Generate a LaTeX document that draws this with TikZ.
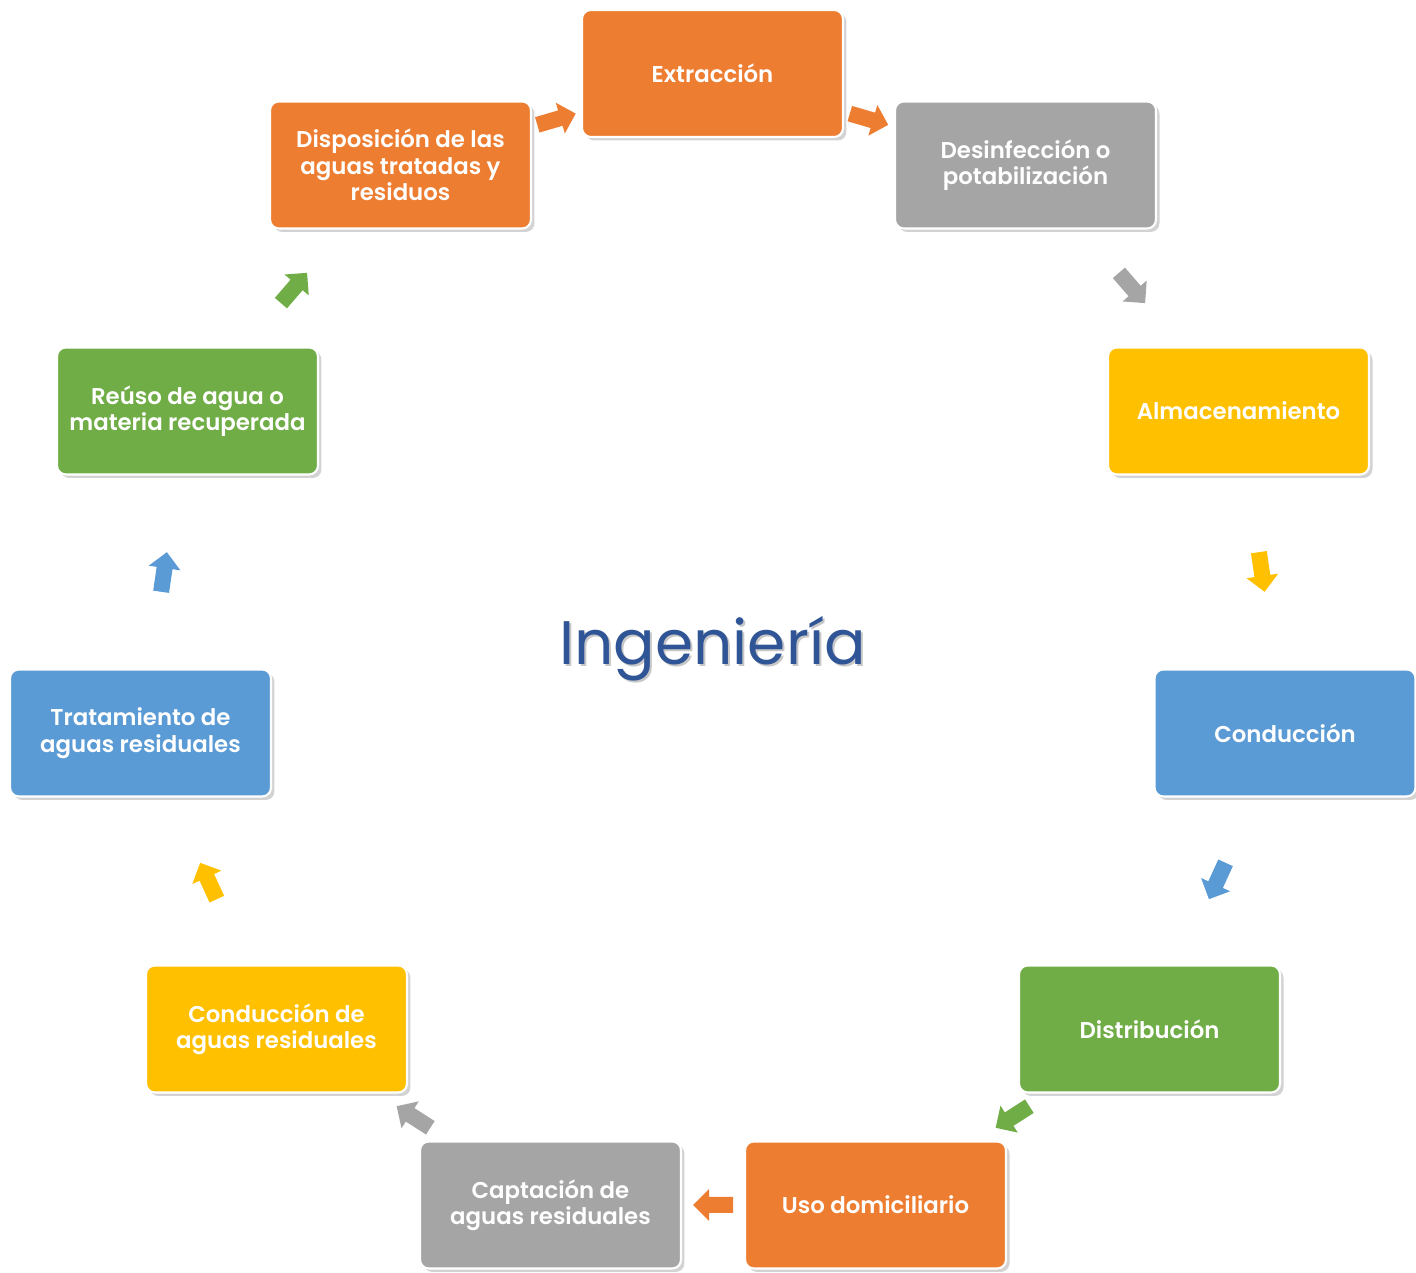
\documentclass[tikz,border=0pt]{standalone}
\usepackage{fontspec}
\setmainfont{Poppins}[BoldFont={Poppins SemiBold}]
\usetikzlibrary{calc,shadows}
\begin{document}
\begin{tikzpicture}[x=0.02cm,y=0.02cm,
  box/.style={rounded corners=5pt, minimum width=5.22cm, minimum height=2.54cm,
    draw=white, line width=1.2pt, text=white, align=center,
    font=\fontsize{13}{15}\selectfont\bfseries,
    drop shadow={shadow xshift=2pt, shadow yshift=-2pt, opacity=.35}},
  cyclearrow/.pic={\fill[pic actions] (-20,-8) -- (4,-8) -- (4,-16) -- (20,0) -- (4,16) -- (4,8) -- (-20,8) -- cycle;}]
\useasboundingbox (0,0) rectangle (1416,1273);

% Changing colors
\definecolor{r237g125b49}{rgb}{0.929412,0.490196,0.192157}%
\definecolor{r165g165b165}{rgb}{0.647059,0.647059,0.647059}%
\definecolor{r255g192b0}{rgb}{1.000000,0.752941,0.000000}%
\definecolor{r91g155b213}{rgb}{0.356863,0.607843,0.835294}%
\definecolor{r112g173b71}{rgb}{0.439216,0.678431,0.278431}%
\definecolor{r47g85b151}{rgb}{0.184314,0.333333,0.592157}%

% Drawing title
\node [anchor=base, text=black, opacity=.22, font=\fontsize{35}{42}\selectfont] (titleshadow) at (714.5,606) {Ingeniería};
\node [anchor=base, text=r47g85b151, font=\fontsize{35}{42}\selectfont] (title) at (712.5,608) {Ingeniería};

% Drawing boxes
\node [box, fill=r237g125b49] (b1) at (712.5,1199.5) {Extracción};
\node [box, fill=r165g165b165] (b2) at (1025.5,1108) {Desinfección o\\potabilización};
\node [box, fill=r255g192b0] (b3) at (1238.5,862) {Almacenamiento};
\node [box, fill=r91g155b213] (b4) at (1285,540) {Conducción};
\node [box, fill=r112g173b71] (b5) at (1149.5,244) {Distribución};
\node [box, fill=r237g125b49] (b6) at (875.5,68) {Uso domiciliario};
\node [box, fill=r165g165b165] (b7) at (550.5,68) {Captación de\\aguas residuales};
\node [box, fill=r255g192b0] (b8) at (276.5,244) {Conducción de\\aguas residuales};
\node [box, fill=r91g155b213] (b9) at (140.5,540) {Tratamiento de\\aguas residuales};
\node [box, fill=r112g173b71] (b10) at (187.5,862) {Reúso de agua o\\materia recuperada};
\node [box, fill=r237g125b49] (b11) at (400.5,1108) {Disposición de las\\aguas tratadas y\\residuos};

% Drawing arrows
\path let \p1 = ($(b2)-(b1)$), \n1 = {atan2(\y1,\x1)} in ($(b1)!0.5!(b2)$) pic [rotate=\n1, fill=r237g125b49] {cyclearrow};
\path let \p1 = ($(b3)-(b2)$), \n1 = {atan2(\y1,\x1)} in ($(b2)!0.5!(b3)$) pic [rotate=\n1, fill=r165g165b165] {cyclearrow};
\path let \p1 = ($(b4)-(b3)$), \n1 = {atan2(\y1,\x1)} in ($(b3)!0.5!(b4)$) pic [rotate=\n1, fill=r255g192b0] {cyclearrow};
\path let \p1 = ($(b5)-(b4)$), \n1 = {atan2(\y1,\x1)} in ($(b4)!0.5!(b5)$) pic [rotate=\n1, fill=r91g155b213] {cyclearrow};
\path let \p1 = ($(b6)-(b5)$), \n1 = {atan2(\y1,\x1)} in ($(b5)!0.5!(b6)$) pic [rotate=\n1, fill=r112g173b71] {cyclearrow};
\path let \p1 = ($(b7)-(b6)$), \n1 = {atan2(\y1,\x1)} in ($(b6)!0.5!(b7)$) pic [rotate=\n1, fill=r237g125b49] {cyclearrow};
\path let \p1 = ($(b8)-(b7)$), \n1 = {atan2(\y1,\x1)} in ($(b7)!0.5!(b8)$) pic [rotate=\n1, fill=r165g165b165] {cyclearrow};
\path let \p1 = ($(b9)-(b8)$), \n1 = {atan2(\y1,\x1)} in ($(b8)!0.5!(b9)$) pic [rotate=\n1, fill=r255g192b0] {cyclearrow};
\path let \p1 = ($(b10)-(b9)$), \n1 = {atan2(\y1,\x1)} in ($(b9)!0.5!(b10)$) pic [rotate=\n1, fill=r91g155b213] {cyclearrow};
\path let \p1 = ($(b11)-(b10)$), \n1 = {atan2(\y1,\x1)} in ($(b10)!0.5!(b11)$) pic [rotate=\n1, fill=r112g173b71] {cyclearrow};
\path let \p1 = ($(b1)-(b11)$), \n1 = {atan2(\y1,\x1)} in ($(b11)!0.5!(b1)$) pic [rotate=\n1, fill=r237g125b49] {cyclearrow};
\end{tikzpicture}
\end{document}
